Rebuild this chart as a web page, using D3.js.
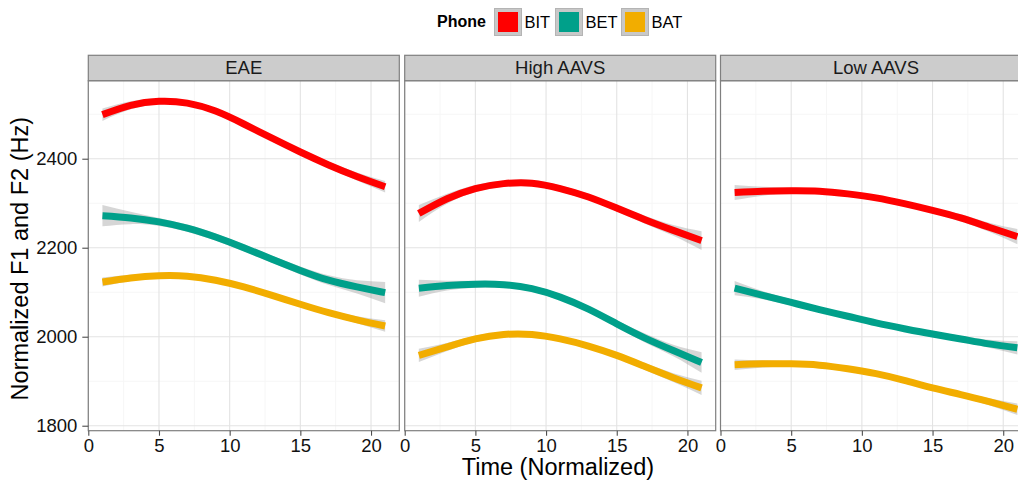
<!DOCTYPE html>
<html>
<head>
<meta charset="utf-8">
<script src="https://cdn.jsdelivr.net/npm/d3@7"></script>
<style>
  html, body { margin: 0; padding: 0; background: #ffffff; }
  svg { display: block; font-family: "Liberation Sans", Arial, Helvetica, sans-serif; }
</style>
</head>
<body>
<svg id="chart" width="1018" height="481"></svg>
<script>
// Facets, groups and colours
const panels = ["EAE", "High AAVS", "Low AAVS"];
const phones = ["BIT", "BET", "BAT"];
const phoneColors = ["#FF0000", "#00A08A", "#F2AD00"];

// Normalized time points of the smoothed formant trajectories
const times = [1, 3, 5, 7, 9, 11, 13, 15, 17, 19, 21];

// Smoothed F1+F2 (Hz), one array per facet and phone
const eaeBIT  = [2499, 2520, 2529, 2525, 2507, 2478, 2446, 2415, 2386, 2360, 2337];
const eaeBET  = [2272, 2267, 2258, 2244, 2224, 2200, 2174, 2149, 2127, 2112, 2099];
const eaeBAT  = [2123, 2132, 2137, 2136, 2127, 2112, 2093, 2073, 2054, 2038, 2024];
const highBIT = [2277, 2310, 2333, 2344, 2345, 2333, 2314, 2289, 2263, 2239, 2216];
const highBET = [2109, 2115, 2118, 2117, 2108, 2089, 2062, 2029, 1997, 1969, 1942];
const highBAT = [1958, 1977, 1995, 2005, 2005, 1995, 1979, 1958, 1933, 1908, 1885];
const lowBIT  = [2324, 2327, 2328, 2327, 2321, 2312, 2299, 2284, 2267, 2246, 2225];
const lowBET  = [2109, 2093, 2077, 2061, 2046, 2031, 2018, 2006, 1995, 1984, 1975];
const lowBAT  = [1937, 1939, 1939, 1936, 1928, 1917, 1902, 1885, 1870, 1854, 1837];

// Half-width of the confidence band (Hz) for each trajectory
const eaeBITse  = [14, 9, 7, 6, 6, 6, 6, 6, 7, 9, 13];
const eaeBETse  = [24, 14, 9, 8, 8, 8, 8, 9, 11, 15, 24];
const eaeBATse  = [10, 7, 5, 5, 5, 5, 5, 5, 6, 8, 13];
const highBITse = [19, 11, 8, 7, 7, 7, 7, 7, 9, 12, 21];
const highBETse = [19, 11, 8, 7, 7, 7, 7, 8, 10, 13, 23];
const highBATse = [15, 9, 7, 6, 6, 6, 6, 6, 8, 10, 16];
const lowBITse  = [17, 10, 7, 6, 6, 6, 6, 6, 8, 10, 17];
const lowBETse  = [16, 9, 7, 6, 6, 6, 6, 6, 7, 9, 15];
const lowBATse  = [12, 8, 6, 5, 5, 5, 5, 5, 6, 8, 13];

const seriesByPanel = [
  [eaeBIT, eaeBET, eaeBAT],
  [highBIT, highBET, highBAT],
  [lowBIT, lowBET, lowBAT]
];
const bandsByPanel = [
  [eaeBITse, eaeBETse, eaeBATse],
  [highBITse, highBETse, highBATse],
  [lowBITse, lowBETse, lowBATse]
];

// Axis ticks
const xTicks = [0, 5, 10, 15, 20];
const xMinor = [2.5, 7.5, 12.5, 17.5];
const yTicks = [1800, 2000, 2200, 2400];
const yMinor = [1900, 2100, 2300, 2500];

// Layout
const panelLefts = [88.3, 404.7, 720.5];
const panelW = 311;
const panelTop = 80.7;
const panelBottom = 430.7;
const stripTop = 55.3;

const svg = d3.select("#chart");

const x = d3.scaleLinear().domain([0, 22]).range([0, panelW]);
const y = d3.scaleLinear().domain([1788.8, 2575.3]).range([panelBottom, panelTop]);

const line = d3.line()
  .x(d => x(d.t))
  .y(d => y(d.v))
  .curve(d3.curveNatural);

const band = d3.area()
  .x(d => x(d.t))
  .y0(d => y(d.v - d.se))
  .y1(d => y(d.v + d.se))
  .curve(d3.curveNatural);

panels.forEach((name, pi) => {
  const g = svg.append("g").attr("transform", `translate(${panelLefts[pi]},0)`);

  // panel background
  g.append("rect")
    .attr("x", 0).attr("y", panelTop)
    .attr("width", panelW).attr("height", panelBottom - panelTop)
    .attr("fill", "#ffffff");

  // minor grid
  g.selectAll(".vminor").data(xMinor).enter().append("line")
    .attr("x1", d => x(d)).attr("x2", d => x(d))
    .attr("y1", panelTop).attr("y2", panelBottom)
    .attr("stroke", "#f6f6f6").attr("stroke-width", 1);
  g.selectAll(".hminor").data(yMinor).enter().append("line")
    .attr("x1", 0).attr("x2", panelW)
    .attr("y1", d => y(d)).attr("y2", d => y(d))
    .attr("stroke", "#f6f6f6").attr("stroke-width", 1);

  // major grid
  g.selectAll(".vmajor").data(xTicks).enter().append("line")
    .attr("x1", d => x(d)).attr("x2", d => x(d))
    .attr("y1", panelTop).attr("y2", panelBottom)
    .attr("stroke", "#e3e3e3").attr("stroke-width", 1.1);
  g.selectAll(".hmajor").data(yTicks).enter().append("line")
    .attr("x1", 0).attr("x2", panelW)
    .attr("y1", d => y(d)).attr("y2", d => y(d))
    .attr("stroke", "#e3e3e3").attr("stroke-width", 1.1);

  // confidence bands, then trajectories
  phones.forEach((ph, si) => {
    const vals = seriesByPanel[pi][si];
    const ses = bandsByPanel[pi][si];
    const pts = times.map((t, i) => ({ t: t, v: vals[i], se: ses[i] }));
    g.append("path")
      .attr("d", band(pts))
      .attr("fill", "#999999")
      .attr("fill-opacity", 0.4);
  });
  phones.forEach((ph, si) => {
    const vals = seriesByPanel[pi][si];
    const pts = times.map((t, i) => ({ t: t, v: vals[i] }));
    g.append("path")
      .attr("d", line(pts))
      .attr("fill", "none")
      .attr("stroke", phoneColors[si])
      .attr("stroke-width", 7);
  });

  // panel border
  g.append("rect")
    .attr("x", 0).attr("y", panelTop)
    .attr("width", panelW).attr("height", panelBottom - panelTop)
    .attr("fill", "none").attr("stroke", "#7f7f7f").attr("stroke-width", 1.2);

  // strip
  g.append("rect")
    .attr("x", 0).attr("y", stripTop)
    .attr("width", panelW).attr("height", panelTop - stripTop)
    .attr("fill", "#cccccc").attr("stroke", "#7f7f7f").attr("stroke-width", 1.2);
  g.append("text")
    .attr("x", panelW / 2).attr("y", 74)
    .attr("text-anchor", "middle")
    .attr("font-size", 18.5)
    .attr("fill", "#1a1a1a")
    .text(name);

  // x axis
  const xa = g.append("g")
    .attr("transform", `translate(0,${panelBottom})`)
    .call(d3.axisBottom(x).tickValues(xTicks).tickSize(5).tickPadding(3).tickFormat(d3.format("d")));
  xa.select(".domain").remove();
  xa.selectAll(".tick line").attr("stroke", "#4d4d4d").attr("stroke-width", 1.1);
  xa.selectAll(".tick text").attr("font-size", 18.5).attr("fill", "#111111")
    .attr("font-family", "'Liberation Sans', Arial, sans-serif");

  // y axis on the first facet only
  if (pi === 0) {
    const ya = g.append("g")
      .call(d3.axisLeft(y).tickValues(yTicks).tickSize(6).tickPadding(5).tickFormat(d3.format("d")));
    ya.select(".domain").remove();
    ya.selectAll(".tick line").attr("stroke", "#4d4d4d").attr("stroke-width", 1.1);
    ya.selectAll(".tick text").attr("font-size", 18.5).attr("fill", "#111111")
      .attr("font-family", "'Liberation Sans', Arial, sans-serif");
  }
});

// axis titles
svg.append("text")
  .attr("x", (panelLefts[0] + panelLefts[2] + panelW) / 2 - 2)
  .attr("y", 475)
  .attr("text-anchor", "middle")
  .attr("font-size", 23.5)
  .attr("fill", "#000000")
  .text("Time (Normalized)");

svg.append("text")
  .attr("transform", `translate(28,${(panelTop + panelBottom) / 2 + 3}) rotate(-90)`)
  .attr("text-anchor", "middle")
  .attr("font-size", 23.5)
  .attr("fill", "#000000")
  .text("Normalized F1 and F2 (Hz)");

// legend
const legend = svg.append("g");
legend.append("text")
  .attr("x", 437).attr("y", 27)
  .attr("font-size", 16).attr("font-weight", "bold")
  .attr("fill", "#000000")
  .text("Phone");
const keyX = [494.5, 555.5, 621.5];
phones.forEach((ph, i) => {
  legend.append("rect")
    .attr("x", keyX[i]).attr("y", 8.5)
    .attr("width", 27).attr("height", 27)
    .attr("fill", "#c8c8c8").attr("stroke", "#b4b4b4").attr("stroke-width", 1);
  legend.append("rect")
    .attr("x", keyX[i] + 3.5).attr("y", 12)
    .attr("width", 20).attr("height", 20)
    .attr("fill", phoneColors[i]);
  legend.append("text")
    .attr("x", keyX[i] + 30).attr("y", 27.5)
    .attr("font-size", 16.5)
    .attr("fill", "#000000")
    .text(ph);
});
</script>
</body>
</html>
